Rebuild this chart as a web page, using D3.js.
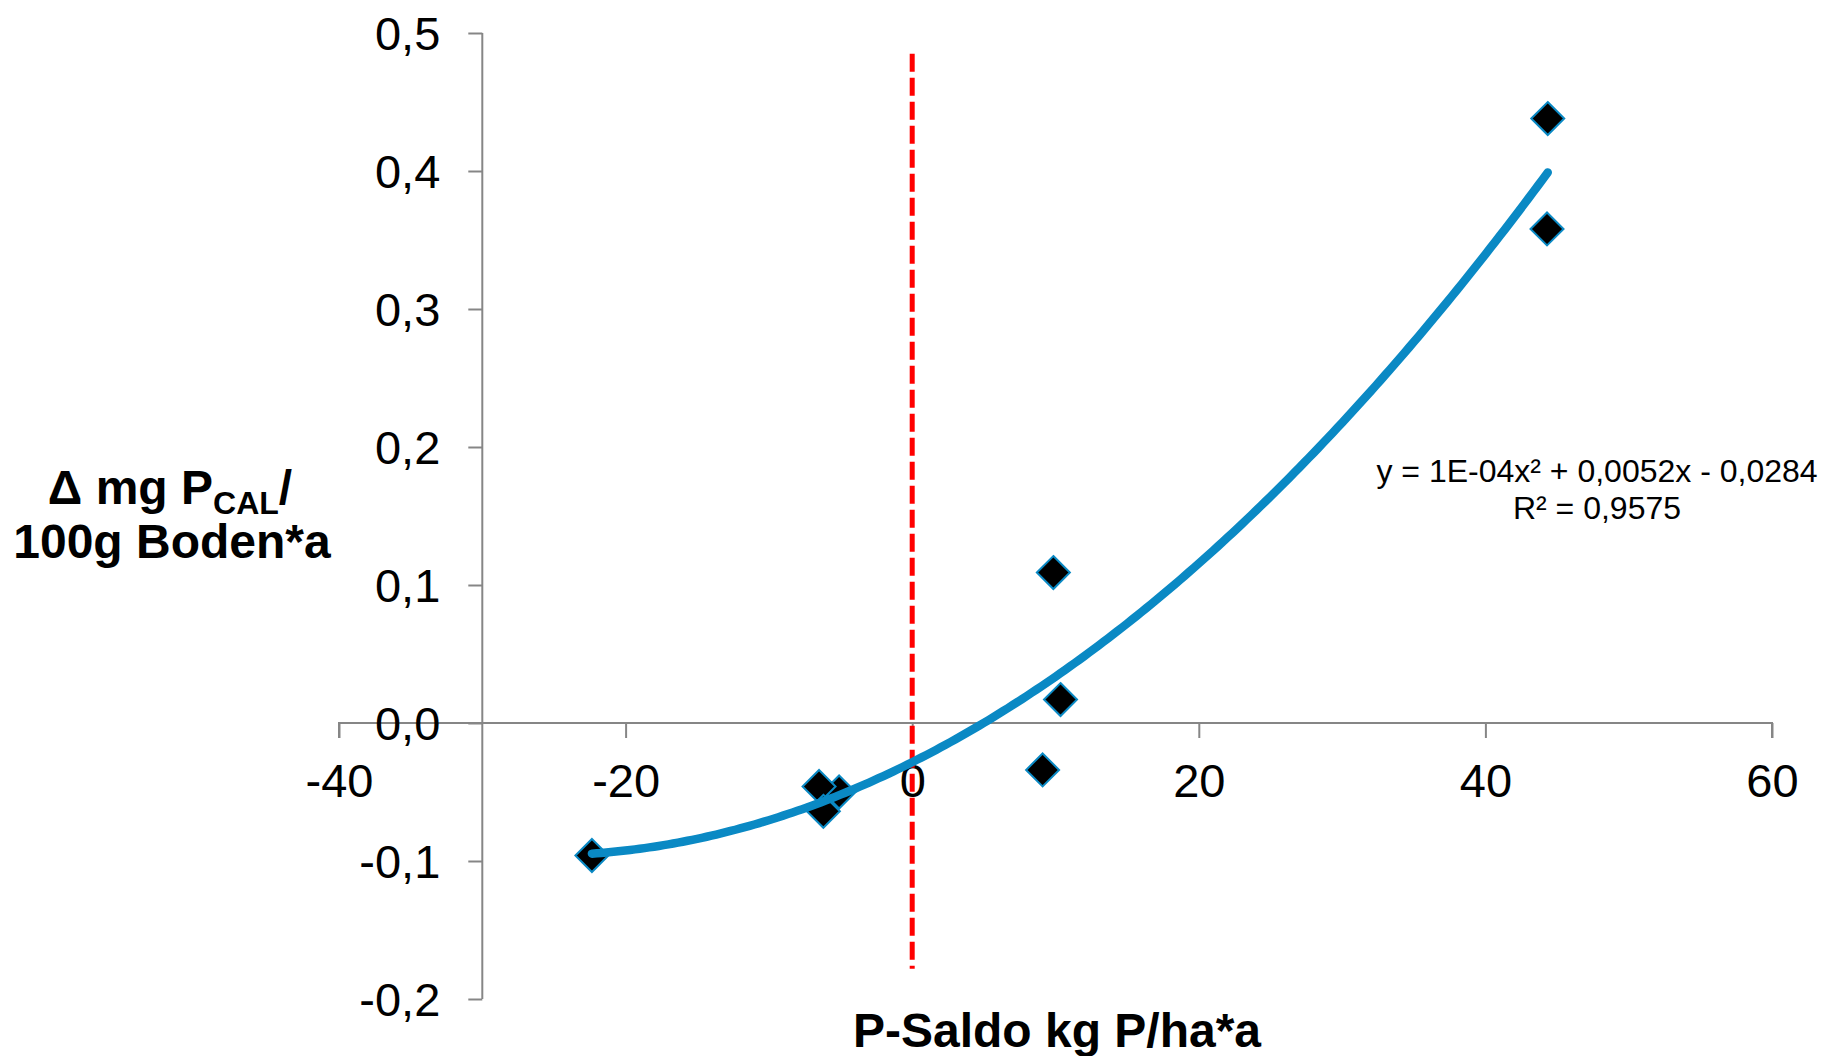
<!DOCTYPE html>
<html>
<head>
<meta charset="utf-8">
<script src="https://cdn.jsdelivr.net/npm/d3@7"></script>
<style>
  html, body { margin: 0; padding: 0; background: #fff; }
  svg { display: block; font-family: "Liberation Sans", Arial, sans-serif; }
</style>
</head>
<body>
<svg id="chart" width="1838" height="1056"></svg>
<script>
// ---- data ----
const pSaldo = [-22.35, -6.5, -5.1, -6.2, 9.1, 9.85, 10.35, 44.3, 44.35];
const deltaP = [-0.096, -0.046, -0.050, -0.064, -0.034, 0.109, 0.017, 0.358, 0.438];
const trendCoeffs = [1e-4, 0.0052, -0.0284]; // a x^2 + b x + c (from chart label)
const refLineX = [0, 0];
const refLineY = [0.485, -0.178];
const xTicks = [-40, -20, 0, 20, 40, 60];
const yTicks = [-0.2, -0.1, 0.0, 0.1, 0.2, 0.3, 0.4, 0.5];
const xDomain = [-40, 60];
const yDomain = [-0.2, 0.5];
const yAxisAtX = -30;
const eqLines = ["y = 1E-04x\u00B2 + 0,0052x - 0,0284", "R\u00B2 = 0,9575"];
const xTitle = "P-Saldo kg P/ha*a";

// ---- setup ----
const svg = d3.select("#chart");
const x = d3.scaleLinear().domain(xDomain).range([339, 1772]);
const y = d3.scaleLinear().domain(yDomain).range([999, 33]);
const fmtY = v => d3.format(".1f")(v).replace(".", ",").replace("−", "-");
const axisColor = "#868686";
const blue = "#0a89c4";

// x axis at y=0
const gx = svg.append("g").attr("transform", `translate(0,${y(0)})`)
  .call(d3.axisBottom(x).tickValues(xTicks).tickSize(15).tickFormat(d => String(d)));
gx.select(".domain").attr("stroke", axisColor).attr("stroke-width", 2)
  .attr("d", `M${x(xDomain[0])},15V0H${x(xDomain[1])}V15`);
gx.selectAll(".tick line").attr("stroke", axisColor).attr("stroke-width", 2);
gx.selectAll(".tick text").attr("fill", "#000").attr("font-size", 47)
  .attr("font-family", "'Liberation Sans', Arial, sans-serif")
  .attr("y", 74).attr("dy", 0);

// y axis
const gy = svg.append("g").attr("transform", `translate(${x(yAxisAtX)},0)`)
  .call(d3.axisLeft(y).tickValues(yTicks).tickSize(14).tickFormat(fmtY));
gy.select(".domain").attr("stroke", axisColor).attr("stroke-width", 2)
  .attr("d", `M0,${y(yDomain[1])}V${y(yDomain[0])}`);
gy.selectAll(".tick line").attr("stroke", axisColor).attr("stroke-width", 2);
gy.selectAll(".tick text").attr("fill", "#000").attr("font-size", 47)
  .attr("font-family", "'Liberation Sans', Arial, sans-serif")
  .attr("x", -42).attr("dy", "0.36em");

// red dashed reference line
svg.append("line")
  .attr("x1", x(refLineX[0])).attr("x2", x(refLineX[1]))
  .attr("y1", y(refLineY[0])).attr("y2", y(refLineY[1]))
  .attr("stroke", "#ff0000").attr("stroke-width", 5)
  .attr("stroke-dasharray", "18,6");

// trendline (polynomial from label coefficients) over data range
const [xmin, xmax] = d3.extent(pSaldo);
const trendX = d3.range(0, 201).map(i => xmin + (xmax - xmin) * i / 200);
const poly = v => trendCoeffs[0] * v * v + trendCoeffs[1] * v + trendCoeffs[2];

// points
const pts = pSaldo.map((v, i) => ({ x: v, y: deltaP[i] }));
const order = [0, 2, 1, 3, 4, 5, 6, 7, 8];
svg.append("g").selectAll("path").data(order.map(i => pts[i])).join("path")
  .attr("transform", d => `translate(${x(d.x)},${y(d.y)})`)
  .attr("d", "M0,-16.5L16.5,0L0,16.5L-16.5,0Z")
  .attr("fill", "#000").attr("stroke", blue).attr("stroke-width", 2);

svg.append("path")
  .datum(trendX)
  .attr("d", d3.line().x(d => x(d)).y(d => y(poly(d))))
  .attr("fill", "none").attr("stroke", blue).attr("stroke-width", 8.5)
  .attr("stroke-linecap", "round");

// equation label
const eq = svg.append("text").attr("text-anchor", "middle").attr("font-size", 32).attr("fill", "#000");
eq.append("tspan").attr("x", 1597).attr("y", 482).text(eqLines[0]);
eq.append("tspan").attr("x", 1597).attr("y", 519).text(eqLines[1]);

// y axis title
const yt = svg.append("text").attr("text-anchor", "middle").attr("font-size", 48)
  .attr("font-weight", "bold").attr("fill", "#000");
const l1 = yt.append("tspan").attr("x", 170).attr("y", 504);
l1.append("tspan").text("\u0394 mg P");
l1.append("tspan").attr("font-size", 32).attr("dy", 10).text("CAL");
l1.append("tspan").attr("dy", -10).text("/");
yt.append("tspan").attr("x", 172).attr("y", 558).text("100g Boden*a");

// x axis title
svg.append("text").attr("x", 1057).attr("y", 1047).attr("text-anchor", "middle")
  .attr("font-size", 48).attr("font-weight", "bold").attr("fill", "#000").text(xTitle);
</script>
</body>
</html>
